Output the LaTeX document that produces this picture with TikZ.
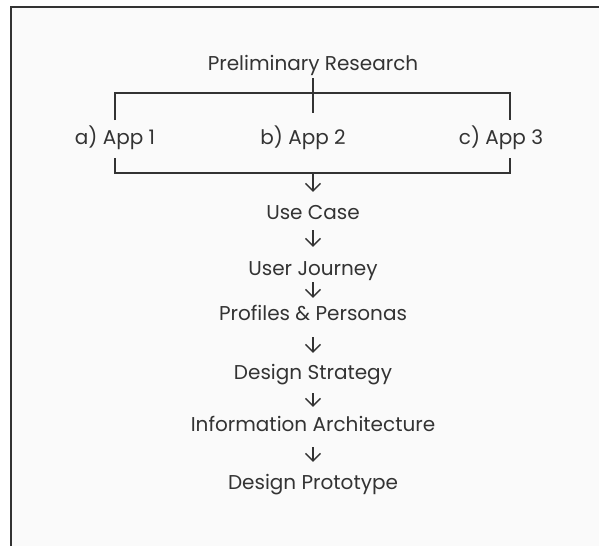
\documentclass[tikz,border=0pt]{standalone}
\usepackage{fontspec}
\setmainfont{Poppins}
\usetikzlibrary{arrows.meta,calc}
\definecolor{ink}{HTML}{333333}
\definecolor{paper}{HTML}{FAFAFA}
\tikzset{
  lbl/.style={inner sep=0pt, text height=16pt, text depth=2pt, text=ink, font=\fontsize{20}{24}\selectfont},
  rule/.style={draw=ink, line width=1.3pt},
  flow/.style={draw=ink, line width=1.3pt, -{Straight Barb[length=7.5pt,width=15pt,line width=1.3pt]}},
}
\begin{document}
\begin{tikzpicture}[x=1pt,y=-1pt]
  \useasboundingbox (0,0) rectangle (599,546);
  % sheet and its top/left edges
  \fill[white] (0,0) rectangle (599,546);
  \fill[paper] (10.5,6.5) rectangle (599,546);
  \draw[ink, line width=2pt] (10.5,546) -- (10.5,6.5) -- (599,6.5);

  % labels
  \node[lbl] (title)     at (313,63)  {Preliminary Research};
  \node[lbl] (app1)      at (115,137) {a) App 1};
  \node[lbl] (app2)      at (303,137) {b) App 2};
  \node[lbl] (app3)      at (501,137) {c) App 3};
  \node[lbl] (usecase)   at (313,212) {Use Case};
  \node[lbl] (journey)   at (313,268) {User Journey};
  \node[lbl] (profiles)  at (313,313) {Profiles \& Personas};
  \node[lbl] (strategy)  at (313,372) {Design Strategy};
  \node[lbl] (ia)        at (313,424) {Information Architecture};
  \node[lbl] (prototype) at (313,482) {Design Prototype};

  % branching bracket above the apps
  \coordinate (stemtop) at ($(title.south)+(0,6)$);
  \coordinate (stemend) at (313,113);
  \draw[rule] (stemtop) -- (stemend);
  \draw[rule] (115,120) -- (115,93) -- (510,93) -- (510,120);

  % joining bracket below the apps
  \coordinate (join) at (313,173);
  \draw[rule] (115,158) -- (115,173) -- (510,173) -- (510,158);

  % flow arrows
  \draw[flow, shorten >=11pt] (join) -- (usecase.north);
  \draw[flow, shorten <=9pt,  shorten >=12pt] (usecase.south)  -- (journey.north);
  \draw[flow, shorten <=5pt,  shorten >=6pt]  (journey.south)  -- (profiles.north);
  \draw[flow, shorten <=15pt, shorten >=10pt] (profiles.south) -- (strategy.north);
  \draw[flow, shorten <=12pt, shorten >=8pt]  (strategy.south) -- (ia.north);
  \draw[flow, shorten <=14pt, shorten >=11pt] (ia.south)       -- (prototype.north);
\end{tikzpicture}
\end{document}
